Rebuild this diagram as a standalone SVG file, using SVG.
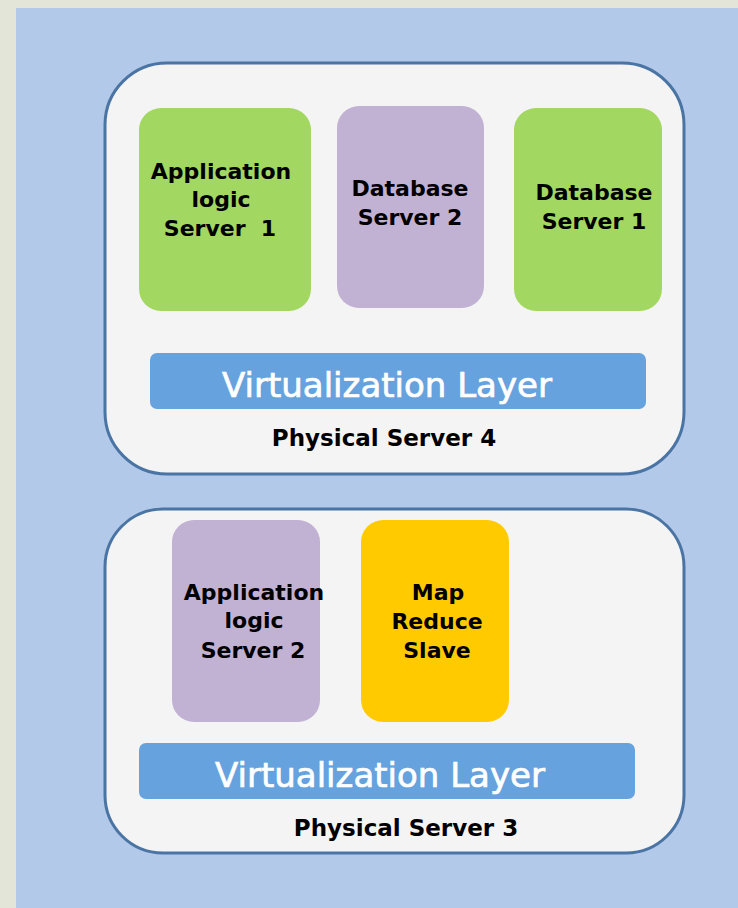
<svg xmlns="http://www.w3.org/2000/svg" width="738" height="908" viewBox="0 0 738 908">
  <style>
    .host { fill: #f4f4f4; stroke: #4a74a3; stroke-width: 3; }
    .vm { stroke: none; }
    .green { fill: #a2d762; }
    .purple { fill: #c1b1d3; }
    .yellow { fill: #ffcb00; }
    .bar { fill: #66a2dd; }
    .lbl { font-family: "DejaVu Sans", "Liberation Sans", sans-serif; font-weight: bold; font-size: 22px; fill: #000; text-anchor: middle; white-space: pre; }
    .phys { font-size: 23px; }
    .vl { font-family: "DejaVu Sans", "Liberation Sans", sans-serif; font-size: 34px; fill: #ffffff; stroke: #ffffff; stroke-width: 0.7; text-anchor: middle; }
  </style>
  <rect x="0" y="0" width="738" height="908" fill="#e4e5d9"/>
  <rect x="16" y="8" width="722" height="900" fill="#b3c9e9"/>

  <g id="physical-server-4">
    <rect class="host" x="105" y="63" width="579" height="411" rx="62"/>
    <g id="app-logic-server-1">
      <rect class="vm green" x="139" y="108" width="172" height="203" rx="22"/>
      <text class="lbl" x="221" y="179">Application</text>
      <text class="lbl" x="221" y="207">logic</text>
      <text class="lbl" x="220" y="236" xml:space="preserve">Server  1</text>
    </g>
    <g id="database-server-2">
      <rect class="vm purple" x="337" y="106" width="147" height="202" rx="22"/>
      <text class="lbl" x="410" y="196">Database</text>
      <text class="lbl" x="410" y="225">Server 2</text>
    </g>
    <g id="database-server-1">
      <rect class="vm green" x="514" y="108" width="148" height="203" rx="22"/>
      <text class="lbl" x="594" y="200">Database</text>
      <text class="lbl" x="594" y="229">Server 1</text>
    </g>
    <g id="virtualization-layer-4">
      <rect class="bar" x="150" y="353" width="496" height="56" rx="7"/>
      <text class="vl" x="387" y="397">Virtualization Layer</text>
    </g>
    <text class="lbl phys" x="384" y="446">Physical Server 4</text>
  </g>

  <g id="physical-server-3">
    <rect class="host" x="105" y="509" width="579" height="344" rx="58"/>
    <g id="app-logic-server-2">
      <rect class="vm purple" x="172" y="520" width="148" height="202" rx="22"/>
      <text class="lbl" x="254" y="600">Application</text>
      <text class="lbl" x="254" y="628">logic</text>
      <text class="lbl" x="253" y="658">Server 2</text>
    </g>
    <g id="map-reduce-slave">
      <rect class="vm yellow" x="361" y="520" width="148" height="202" rx="22"/>
      <text class="lbl" x="438" y="600">Map</text>
      <text class="lbl" x="437" y="629">Reduce</text>
      <text class="lbl" x="437" y="658">Slave</text>
    </g>
    <g id="virtualization-layer-3">
      <rect class="bar" x="139" y="743" width="496" height="56" rx="7"/>
      <text class="vl" x="380" y="787">Virtualization Layer</text>
    </g>
    <text class="lbl phys" x="406" y="836">Physical Server 3</text>
  </g>

  <g id="connectors"></g>
</svg>
